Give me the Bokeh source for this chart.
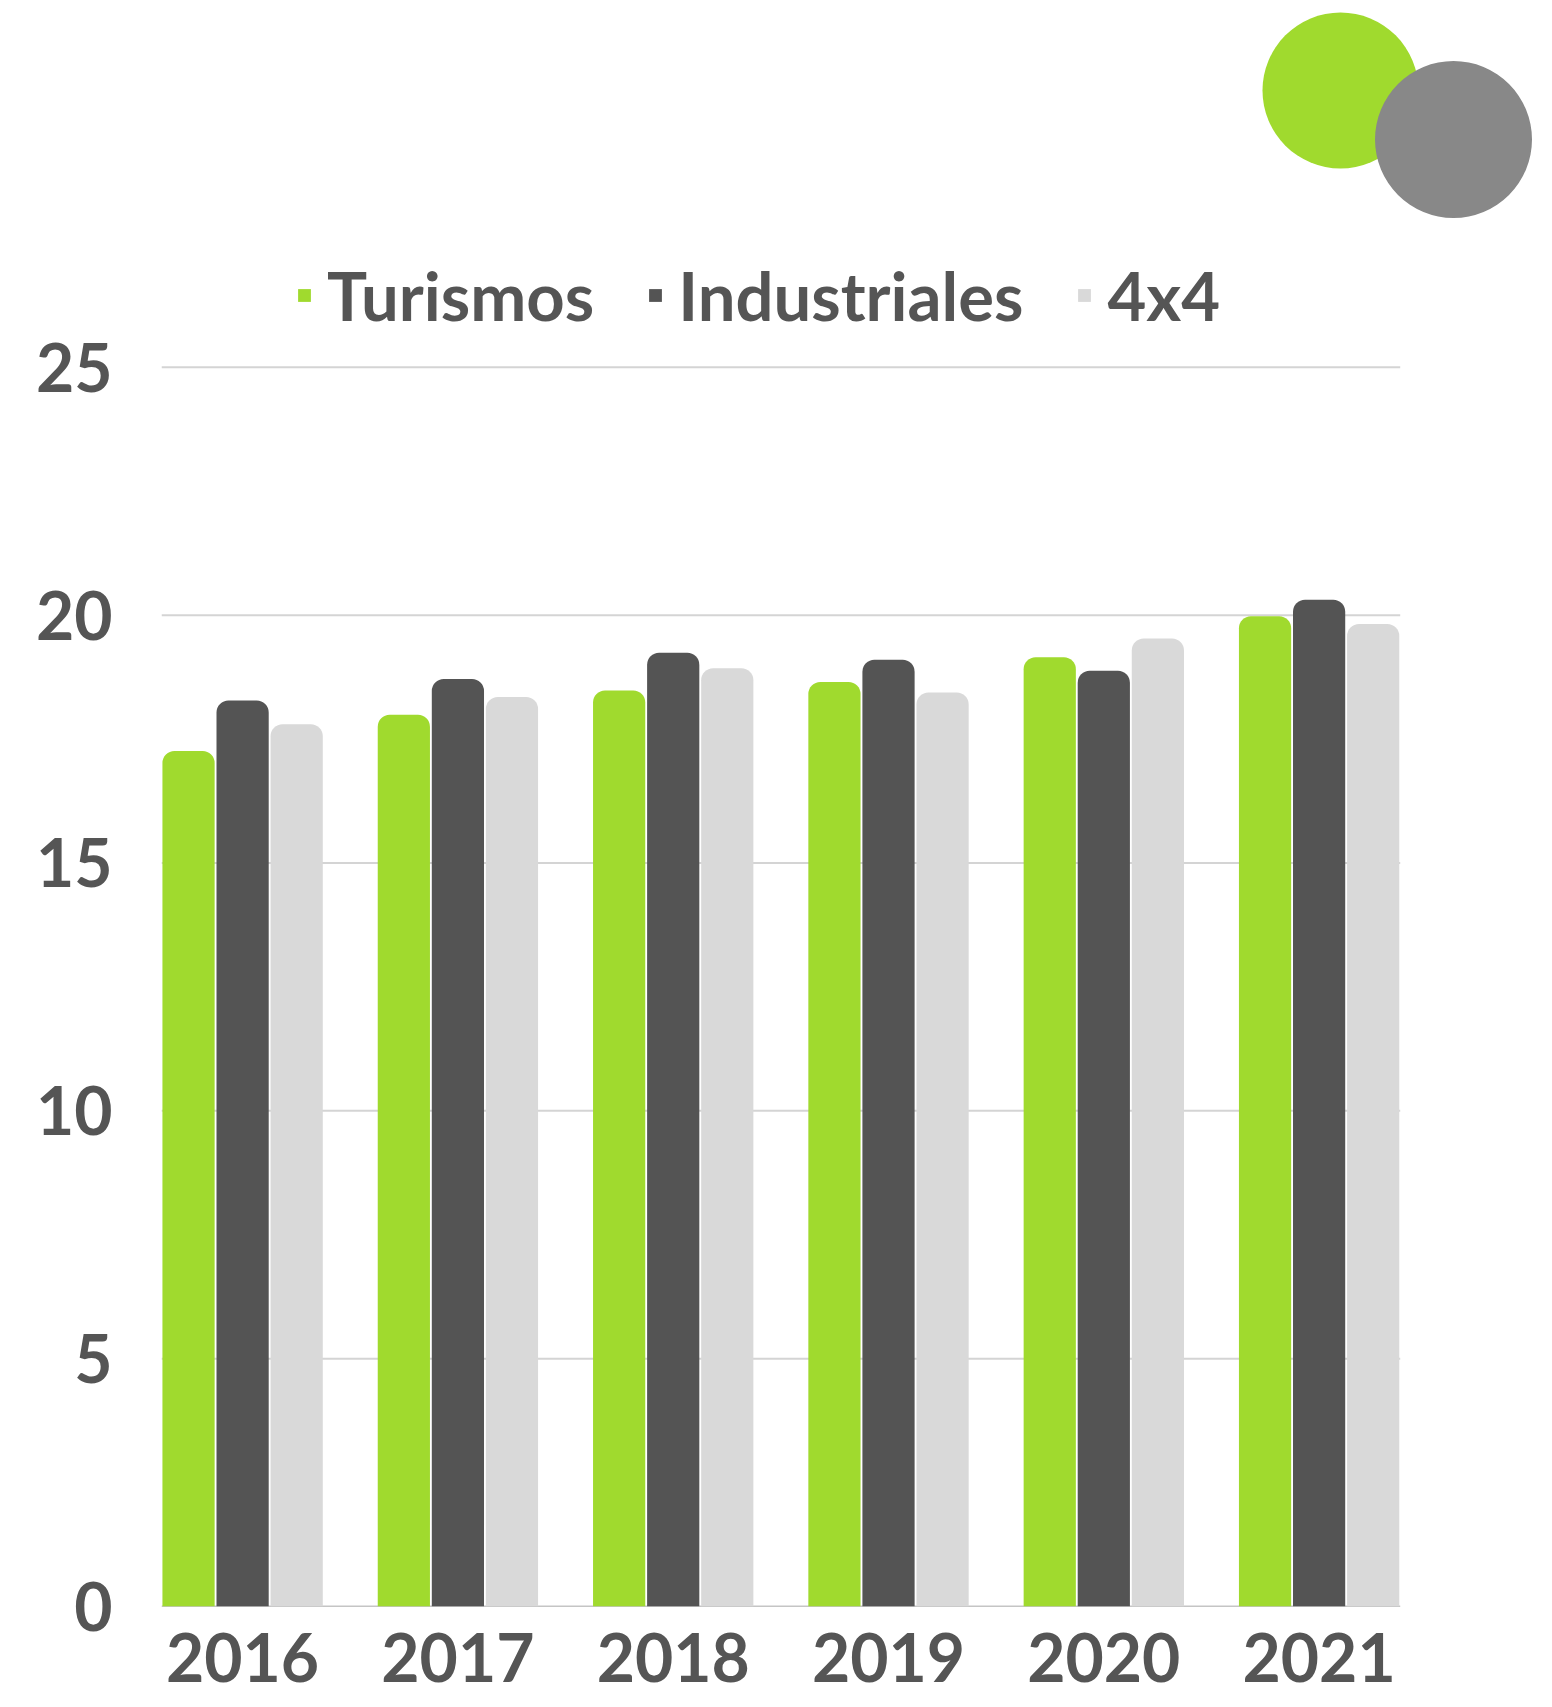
from bokeh.plotting import figure
from bokeh.models import Range1d, FixedTicker, Legend, LegendItem, ColumnDataSource
from bokeh.embed import file_html
from bokeh.resources import INLINE

# ---- data ----
years = ["2016", "2017", "2018", "2019", "2020", "2021"]
turismos = [17.26, 17.99, 18.48, 18.65, 19.15, 19.98]
industriales = [18.28, 18.71, 19.24, 19.10, 18.88, 20.31]
cuatro_x4 = [17.80, 18.35, 18.93, 18.44, 19.53, 19.82]
series_names = ["Turismos", "Industriales", "4x4"]
y_ticks = [0, 5, 10, 15, 20, 25]

# ---- style ----
W, H = 1552, 1707
FONT = "Lato"
TXT = "#555555"
GREEN = "#A0DA2E"
DARK = "#545454"
LIGHT = "#D9D9D9"
CIRCLE_GRAY = "#888888"
colors = [GREEN, DARK, LIGHT]

slot = 0.2511
bar_w = 0.2425
half_group = 0.3767
x_start, x_end = -half_group, 6.084
y_end = 32.40

p = figure(width=W, height=H, output_backend="svg", toolbar_location=None,
           x_range=Range1d(x_start, x_end), y_range=Range1d(0, y_end),
           min_border_left=161, min_border_right=0, min_border_top=0,
           min_border_bottom=101)
p.outline_line_color = None
p.xgrid.visible = False
p.ygrid.visible = False
p.background_fill_color = "white"
p.border_fill_color = "white"

xs = list(range(len(years)))

# gridlines (behind bars)
g = y_ticks[1:]
p.segment(x0=[x_start] * len(g), y0=g, x1=[len(years) - 1 + half_group] * len(g), y1=g,
          line_color="#D4D4D4", line_width=2)
p.segment(x0=[x_start], y0=[y_ticks[0]], x1=[len(years) - 1 + half_group], y1=[y_ticks[0]],
          line_color="#8C8C8C", line_width=1.5)

renderers = []
for k, (vals, col) in enumerate(zip([turismos, industriales, cuatro_x4], colors)):
    src = ColumnDataSource(dict(x=[i + (k - 1) * slot for i in xs], top=vals))
    r = p.vbar(x="x", top="top", bottom=0, width=bar_w, source=src,
               fill_color=col, line_color=None, border_radius=(12, 12, 0, 0))
    renderers.append(r)

# decorative circles (screen-like extra ranges)
p.extra_x_ranges = {"px": Range1d(161, 1552)}
p.extra_y_ranges = {"py": Range1d(1606, 0)}
p.scatter(x=[1340, 1453], y=[90, 139], size=[156, 157], marker="circle",
          fill_color=[GREEN, CIRCLE_GRAY], line_color=None,
          x_range_name="px", y_range_name="py")

# axes
p.yaxis.ticker = FixedTicker(ticks=y_ticks)
p.xaxis.ticker = FixedTicker(ticks=xs)
p.xaxis.major_label_overrides = {i: y for i, y in enumerate(years)}
for ax in (p.xaxis, p.yaxis):
    ax.axis_line_color = None
    ax.major_tick_line_color = None
    ax.minor_tick_line_color = None
    ax.major_label_text_font = FONT
    ax.major_label_text_font_size = "66px"
    ax.major_label_text_font_style = "bold"
    ax.major_label_text_color = TXT
p.yaxis.major_label_standoff = 43
p.xaxis.major_label_standoff = 20

legend = Legend(items=[LegendItem(label=n, renderers=[r]) for n, r in zip(series_names, renderers)],
                orientation="horizontal", location=(135, 1271),
                label_text_font=FONT, label_text_font_size="67px",
                label_text_font_style="bold", label_text_color=TXT,
                glyph_width=16, glyph_height=16, label_standoff=15, spacing=53,
                padding=0, margin=0, border_line_color=None,
                background_fill_alpha=0, label_height=70)
p.add_layout(legend)

open("out.html", "w").write(file_html(p, INLINE))
